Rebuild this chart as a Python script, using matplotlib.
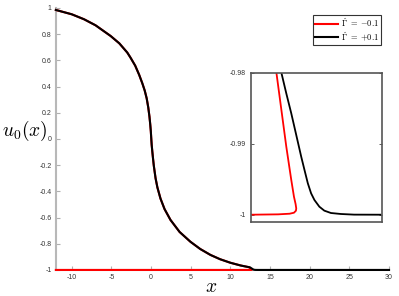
import matplotlib
matplotlib.use('Agg')
import matplotlib.pyplot as plt

plt.rcParams['mathtext.fontset'] = 'cm'
plt.rcParams['font.family'] = ['Liberation Sans', 'DejaVu Sans']

# curve (both cases overlap here)
curve_x = [-12, -10, -8.45, -7, -5.09, -4, -3, -2.58, -2, -1.5, -1.1, -0.8, -0.55, -0.35,
           -0.2, -0.1, -0.03, 0.03, 0.08, 0.15, 0.25, 0.35, 0.57, 0.8, 1.19, 1.7, 2.45, 3.6,
           4.97, 6.2, 7.48, 8.7, 10, 11.3]
curve_y = [0.985, 0.952, 0.914, 0.868, 0.786, 0.73, 0.66, 0.62, 0.56, 0.49, 0.425, 0.37, 0.31,
           0.24, 0.17, 0.11, 0.06, 0.0, -0.045, -0.09, -0.15, -0.205, -0.30, -0.37, -0.455,
           -0.535, -0.618, -0.71, -0.785, -0.84, -0.885, -0.918, -0.945, -0.966]

# tail near u = -1
red_x = [12.389, 12.465, 12.540, 12.616, 12.657, 12.682, 12.692, 12.687, 12.657, 12.591,
         12.414, 12.0, -12]
red_y = [-0.98, -0.98525, -0.99042, -0.99511, -0.99746, -0.9985, -0.99911, -0.99944,
         -0.99972, -0.99986, -0.99995, -1.0, -1.0]
black_x = [12.465, 12.540, 12.616, 12.692, 12.768, 12.818, 12.869, 12.919, 12.970, 13.045,
           13.121, 13.222, 13.374, 13.576, 13.98, 30]
black_y = [-0.98, -0.98291, -0.98572, -0.98877, -0.99183, -0.99370, -0.99558, -0.99699,
           -0.99793, -0.99887, -0.99943, -0.99976, -0.99990, -0.99999, -1.0, -1.0]

labels = [r'$\hat{\Gamma}\ =\ {-0.1}$', r'$\hat{\Gamma}\ =\ {+0.1}$']
colors = ['#ff0000', '#000000']

fig = plt.figure(figsize=(3.99, 2.96), dpi=100)
ax = fig.add_axes([0.140, 0.088, 0.835, 0.885])

ax.plot(curve_x + red_x, curve_y + red_y, color=colors[0], lw=1.5, label=labels[0],
        clip_on=False, zorder=3)
ax.plot(curve_x + black_x, curve_y + black_y, color=colors[1], lw=1.5, label=labels[1],
        clip_on=False, zorder=4)
ax.set_xlim(-12, 30)
ax.set_ylim(-1, 1)
ax.set_xticks([-10, -5, 0, 5, 10, 15, 20, 25, 30])
ax.set_yticks([-1, -0.8, -0.6, -0.4, -0.2, 0, 0.2, 0.4, 0.6, 0.8, 1])
ax.set_yticklabels(['-1', '-0.8', '-0.6', '-0.4', '-0.2', '0', '0.2', '0.4', '0.6', '0.8', '1'])
ax.set_xticklabels(['-10', '-5', '0', '5', '10', '15', '20', '25', '30'])
ax.tick_params(direction='in', length=3, width=0.8, labelsize=5, colors='#b0b0b0',
               labelcolor='#333333', pad=3)
for s in ['top', 'right']:
    ax.spines[s].set_visible(False)
for s in ['left', 'bottom']:
    ax.spines[s].set_color('#b8b8b8')
    ax.spines[s].set_linewidth(1.5)
ax.set_xlabel(r'$x$', fontsize=14)
ax.xaxis.set_label_coords(0.465, -0.035)
ax.set_ylabel(r'$u_0(x)$', fontsize=14, rotation=0, va='center', ha='center')
ax.yaxis.set_label_coords(-0.093, 0.53)

leg = ax.legend(loc='upper right', bbox_to_anchor=(0.98, 0.98), fontsize=6,
                fancybox=False, framealpha=1, edgecolor='#333333', handlelength=2.8,
                borderpad=0.25, labelspacing=0.1, handletextpad=0.3, borderaxespad=0.2)
leg.get_frame().set_linewidth(0.8)

# inset
ins = fig.add_axes([0.629, 0.249, 0.328, 0.505])
ins.plot(red_x[:-1], red_y[:-1], color=colors[0], lw=1.3)
ins.plot(black_x[:-1], black_y[:-1], color=colors[1], lw=1.3)
ins.set_xlim(12.0, 14.0)
ins.set_ylim(-1.00107, -0.98)
ins.set_xticks([])
ins.set_yticks([-1, -0.99, -0.98])
ins.set_yticklabels(['-1', '-0.99', '-0.98'])
ins.tick_params(direction='in', length=2, width=0.6, labelsize=5, colors='#444444',
                labelcolor='#333333', right=True)
for s in ins.spines.values():
    s.set_color('#555555')
    s.set_linewidth(1.2)

fig.savefig('out.png', dpi=100)
